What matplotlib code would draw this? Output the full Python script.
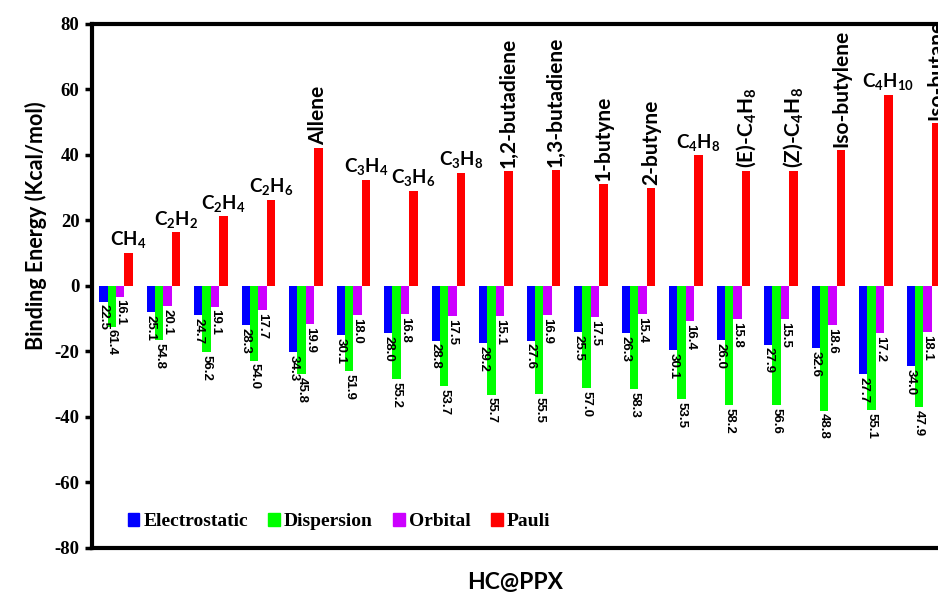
import numpy as np
import matplotlib
matplotlib.use("Agg")
import matplotlib.pyplot as plt
from matplotlib.patches import Patch

plt.rcParams['mathtext.fontset'] = 'custom'
plt.rcParams['mathtext.rm'] = 'Lato:bold'
plt.rcParams['axes.unicode_minus'] = False

names = [r'$\mathregular{CH_4}$', r'$\mathregular{C_2H_2}$', r'$\mathregular{C_2H_4}$',
         r'$\mathregular{C_2H_6}$', 'Allene', r'$\mathregular{C_3H_4}$', r'$\mathregular{C_3H_6}$',
         r'$\mathregular{C_3H_8}$', '1,2-butadiene', '1,3-butadiene', '1-butyne', '2-butyne',
         r'$\mathregular{C_4H_8}$', r'(E)-C$\mathregular{_4}$H$\mathregular{_8}$',
         r'(Z)-C$\mathregular{_4}$H$\mathregular{_8}$', 'Iso-butylene',
         r'$\mathregular{C_4H_{10}}$', 'Iso-butane']
vertical = [False, False, False, False, True, False, False, False, True, True, True, True,
            False, True, True, True, False, True]

electro = [-4.8, -7.9, -8.9, -11.9, -20.1, -15.1, -14.4, -16.7, -17.4, -16.7, -14.1, -14.4,
           -19.6, -16.5, -17.9, -19.0, -26.9, -24.6]
disp = [-12.4, -16.5, -20.1, -22.8, -26.9, -26.0, -28.4, -30.7, -33.2, -33.0, -31.2, -31.5,
        -34.6, -36.5, -36.5, -38.1, -37.9, -36.9]
orbital = [-3.3, -6.1, -6.3, -7.5, -11.6, -9.0, -8.6, -9.3, -9.2, -9.0, -9.5, -8.6,
           -10.7, -10.1, -10.1, -11.9, -14.4, -14.1]
pauli = [10.0, 16.3, 21.2, 26.3, 42.1, 32.4, 29.1, 34.5, 35.0, 35.3, 31.1, 29.9,
         39.8, 35.0, 35.0, 41.4, 58.4, 49.8]

pct_e = [22.5, 25.1, 24.7, 28.3, 34.3, 30.1, 28.0, 28.8, 29.2, 27.6, 25.5, 26.3,
         30.1, 26.0, 27.9, 32.6, 27.7, 34.0]
pct_d = [61.4, 54.8, 56.2, 54.0, 45.8, 51.9, 55.2, 53.7, 55.7, 55.5, 57.0, 58.3,
         53.5, 58.2, 56.6, 48.8, 55.1, 47.9]
pct_o = [16.1, 20.1, 19.1, 17.7, 19.9, 18.0, 16.8, 17.5, 15.1, 16.9, 17.5, 15.4,
         16.4, 15.8, 15.5, 18.6, 17.2, 18.1]

colors = ['#0000FF', '#00FF00', '#CC00FF', '#FF0000']

fig = plt.figure(figsize=(9.38, 5.93), dpi=100)
ax = fig.add_axes([0.098, 0.0759, 0.934, 0.884])

x = np.arange(len(names))
w = 0.177
series = [electro, disp, orbital, pauli]
offs = [-1.5, -0.5, 0.5, 1.5]
for s, o, c in zip(series, offs, colors):
    ax.bar(x + o * w, s, w, color=c, edgecolor='none')

lab_font = dict(family='Liberation Sans', fontweight='bold', fontsize=9.5)
for pc, s, o in zip([pct_e, pct_d, pct_o], [electro, disp, orbital], offs[:3]):
    for i in range(len(x)):
        ax.annotate('%.1f' % pc[i], (x[i] + o * w, s[i]), xytext=(0, -2),
                    textcoords='offset points', rotation=270, ha='center', va='top',
                    **lab_font)

for i in range(len(x)):
    ax.annotate(names[i], (x[i] + 1.5 * w, pauli[i]), xytext=(0, 2),
                textcoords='offset points', rotation=90 if vertical[i] else 0,
                ha='center', va='bottom', family='Lato', fontweight='bold',
                fontsize=15 if vertical[i] else 13.5, annotation_clip=False)

ax.set_xlim(-0.505, 17.94)
ax.set_ylim(-80, 80)
ax.set_yticks(np.arange(-80, 81, 20))
ax.set_xticks([])
for lbl in ax.get_yticklabels():
    lbl.set_family('Liberation Serif')
    lbl.set_fontweight('bold')
    lbl.set_fontsize(13.5)
ax.tick_params(axis='y', length=5, width=2.5, pad=4)
for sp in ax.spines.values():
    sp.set_linewidth(3)

ax.set_ylabel('Binding Energy (Kcal/mol)', family='Lato', fontweight='bold', fontsize=15.5)
ax.yaxis.set_label_coords(-0.051, 0.614)
fig.text(0.549, 0.0185, 'HC@PPX', family='Lato', fontweight='bold', fontsize=16.5,
         ha='center', va='center')

handles = [Patch(color=c) for c in colors]
ax.legend(handles, ['Electrostatic', 'Dispersion', 'Orbital', 'Pauli'], ncol=4,
          loc='lower left', bbox_to_anchor=(0.021, 0.0), frameon=False,
          handlelength=0.6, handleheight=0.6, handletextpad=0.2, columnspacing=1.05,
          prop=dict(family='Liberation Serif', weight='bold', size=14))

fig.savefig('out.png', dpi=100)
